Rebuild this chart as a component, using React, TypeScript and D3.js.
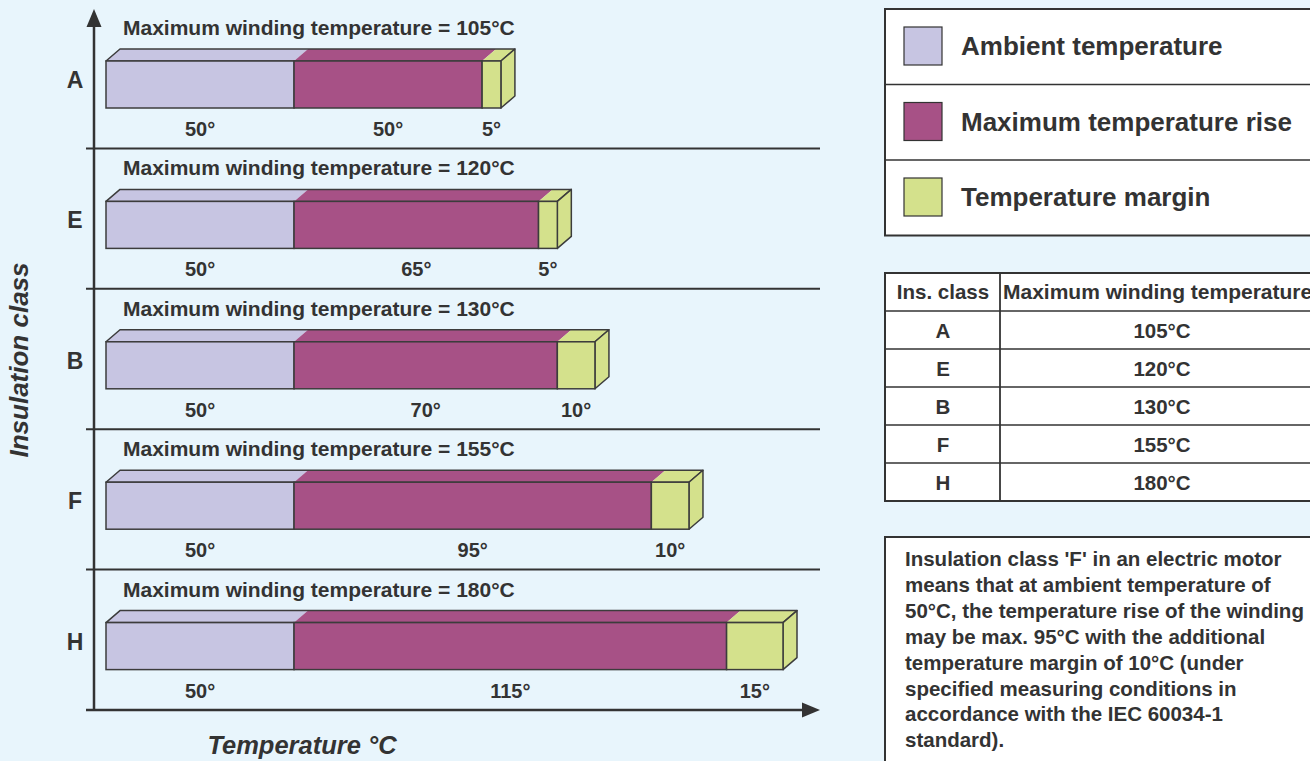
import React from "react";
import * as d3 from "d3";

const classes = ["A", "E", "B", "F", "H"];
const ambient = [50, 50, 50, 50, 50];
const rise = [50, 65, 70, 95, 115];
const margin = [5, 5, 10, 10, 15];
const maxTemp = [105, 120, 130, 155, 180];

const legendLabels = ["Ambient temperature", "Maximum temperature rise", "Temperature margin"];
const tableHeader = ["Ins. class", "Maximum winding temperature"];
const noteLines = [
  "Insulation class 'F' in an electric motor",
  "means that at ambient temperature of",
  "50°C, the temperature rise of the winding",
  "may be max. 95°C with the additional",
  "temperature margin of 10°C (under",
  "specified measuring conditions in",
  "accordance with the IEC 60034-1",
  "standard).",
];

const W = 1310;
const H = 761;
const BG = "#e8f5fc";
const INK = "#333333";
const STROKE = "#3c3c3c";
const colors = ["#c7c5e2", "#a75186", "#d4e18c"];
const FONT = "'Liberation Sans', Arial, sans-serif";

export default function App() {
  const x = d3.scaleLinear().domain([0, 180]).range([106, 783]);
  const y = d3.scaleBand<string>().domain(classes).range([8, 710]).paddingInner(0).paddingOuter(0);
  const dx = 14;
  const dy = 12;
  const axisX = 94;
  const axisY = 710;

  const rows = classes.map((c, i) => {
    const segs = [ambient[i], rise[i], margin[i]];
    const starts = [0, ambient[i], ambient[i] + rise[i]];
    return { c, i, segs, starts, top: y(c) as number };
  });

  const legendTop = 9;
  const legendRowH = 75.5;
  const tableTop = 273;
  const tableHeadH = 38;
  const tableRowH = 38;

  return (
    <svg
      width={W}
      height={H}
      style={{ position: "fixed", left: 0, top: 0, background: BG, fontFamily: FONT }}
    >
      <rect x={0} y={0} width={W} height={H} fill={BG} />

      {/* separators */}
      {rows.slice(1).map((r) => (
        <line key={"sep" + r.c} x1={86} x2={820} y1={r.top} y2={r.top} stroke={INK} strokeWidth={2} />
      ))}

      {/* axes */}
      <line x1={axisX} x2={axisX} y1={22} y2={axisY} stroke={INK} strokeWidth={2.5} />
      <path d={`M${axisX},9 L${axisX - 7.5},27 L${axisX + 7.5},27 Z`} fill={INK} />
      <line x1={86} x2={806} y1={axisY} y2={axisY} stroke={INK} strokeWidth={2.5} />
      <path d={`M820,${axisY} L802,${axisY - 7.5} L802,${axisY + 7.5} Z`} fill={INK} />

      {rows.map((r) => {
        const ft = r.top + 53;
        const fb = r.top + 100;
        const left = x(0);
        const right = x(maxTemp[r.i]);
        return (
          <g key={r.c}>
            <text x={123} y={r.top + 27} fontSize={21} fontWeight="bold" fill={INK}>
              {`Maximum winding temperature = ${maxTemp[r.i]}°C`}
            </text>
            <text x={75} y={r.top + 80} fontSize={23} fontWeight="bold" fill={INK} textAnchor="middle">
              {r.c}
            </text>
            {r.segs.map((v, k) => {
              const x0 = x(r.starts[k]);
              const x1 = x(r.starts[k] + v);
              return (
                <polygon
                  key={"top" + k}
                  points={`${x0},${ft} ${x0 + dx},${ft - dy} ${x1 + dx},${ft - dy} ${x1},${ft}`}
                  fill={colors[k]}
                />
              );
            })}
            <polygon
              points={`${left},${ft} ${left + dx},${ft - dy} ${right + dx},${ft - dy} ${right},${ft}`}
              fill="none"
              stroke={STROKE}
              strokeWidth={1.5}
              strokeLinejoin="round"
            />
            <polygon
              points={`${right},${ft} ${right + dx},${ft - dy} ${right + dx},${fb - dy} ${right},${fb}`}
              fill={colors[2]}
              stroke={STROKE}
              strokeWidth={1.5}
              strokeLinejoin="round"
            />
            {r.segs.map((v, k) => {
              const x0 = x(r.starts[k]);
              const x1 = x(r.starts[k] + v);
              return (
                <g key={"front" + k}>
                  <rect x={x0} y={ft} width={x1 - x0} height={fb - ft} fill={colors[k]} stroke={STROKE} strokeWidth={1.5} />
                  <text
                    x={(x0 + x1) / 2}
                    y={r.top + 128}
                    fontSize={20}
                    fontWeight="bold"
                    fill={INK}
                    textAnchor="middle"
                  >
                    {`${v}°`}
                  </text>
                </g>
              );
            })}
          </g>
        );
      })}

      {/* axis titles */}
      <text
        transform={`translate(28,360) rotate(-90)`}
        fontSize={26}
        fontWeight="bold"
        fontStyle="italic"
        fill={INK}
        textAnchor="middle"
      >
        Insulation class
      </text>
      <text x={302} y={754} fontSize={25.5} fontWeight="bold" fontStyle="italic" fill={INK} textAnchor="middle">
        Temperature °C
      </text>

      {/* legend */}
      <rect x={885} y={legendTop} width={440} height={legendRowH * 3} fill="#ffffff" stroke={INK} strokeWidth={2} />
      {legendLabels.map((l, i) => (
        <g key={l}>
          {i > 0 && (
            <line x1={885} x2={1320} y1={legendTop + legendRowH * i} y2={legendTop + legendRowH * i} stroke={INK} strokeWidth={1.5} />
          )}
          <rect x={904} y={legendTop + legendRowH * i + 18} width={38} height={38} fill={colors[i]} stroke={INK} strokeWidth={1.2} />
          <text x={961} y={legendTop + legendRowH * i + 46} fontSize={26} fontWeight="bold" fill={INK}>
            {l}
          </text>
        </g>
      ))}

      {/* table */}
      <rect x={885} y={tableTop} width={440} height={tableHeadH + tableRowH * 5} fill="#ffffff" stroke={INK} strokeWidth={2} />
      <line x1={1000} x2={1000} y1={tableTop} y2={tableTop + tableHeadH + tableRowH * 5} stroke={INK} strokeWidth={1.8} />
      <text x={943} y={tableTop + 26} fontSize={20.5} fontWeight="bold" fill={INK} textAnchor="middle">
        {tableHeader[0]}
      </text>
      <text x={1003} y={tableTop + 26} fontSize={21} fontWeight="bold" fill={INK}>
        {tableHeader[1]}
      </text>
      {classes.map((c, i) => {
        const ry = tableTop + tableHeadH + tableRowH * i;
        return (
          <g key={"tr" + c}>
            <line x1={885} x2={1320} y1={ry} y2={ry} stroke={INK} strokeWidth={1.5} />
            <text x={943} y={ry + 27} fontSize={20.5} fontWeight="bold" fill={INK} textAnchor="middle">
              {c}
            </text>
            <text x={1162} y={ry + 27} fontSize={20.5} fontWeight="bold" fill={INK} textAnchor="middle">
              {`${maxTemp[i]}°C`}
            </text>
          </g>
        );
      })}

      {/* note */}
      <rect x={885} y={537} width={440} height={240} fill="#ffffff" stroke={INK} strokeWidth={2} />
      {noteLines.map((l, i) => (
        <text key={"n" + i} x={905} y={566 + i * 25.9} fontSize={20.5} fontWeight="bold" fill={INK}>
          {l}
        </text>
      ))}
    </svg>
  );
}
